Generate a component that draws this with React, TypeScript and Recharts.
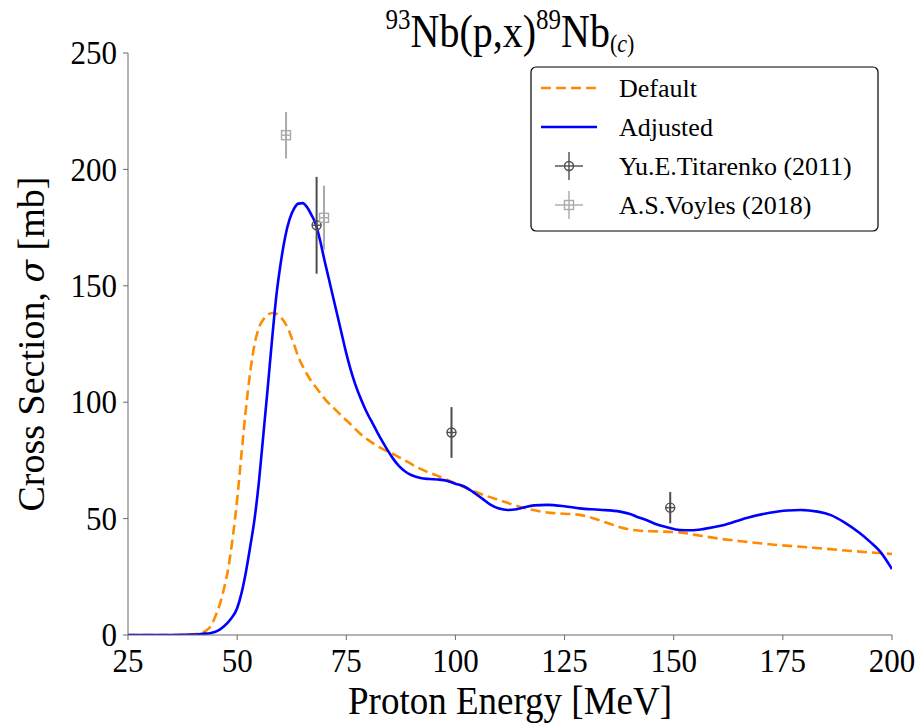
import React from 'react';
import {
  ComposedChart,
  Line,
  Scatter,
  ErrorBar,
  XAxis,
  YAxis,
  Legend,
} from 'recharts';

// Default model: energy grid [MeV] and cross section [mb]
const defaultEnergy = [
  25, 35, 40, 42, 43, 44, 45, 46, 47, 48, 49, 50, 51, 52, 53, 54, 55, 56, 57, 58,
  59, 60, 61, 62, 63, 64, 65, 66, 67, 68, 69, 70.5, 72, 74, 76, 78, 80, 82, 84, 86,
  88, 90.3, 93, 96.4, 99.5, 101.8, 104.5, 107, 110, 113.3, 117, 121, 125, 128.5,
  132.3, 135, 137.7, 140, 142.3, 146, 151.4, 155, 160, 166.7, 173, 182, 190, 200,
];
const defaultXs = [
  0, 0, 0.3, 1, 2, 4, 8, 13, 20, 29, 42, 58, 78, 97, 113, 125, 132, 135.5, 137.5, 138.3,
  138, 136.5, 134, 130, 125, 119.5, 115.5, 112, 109, 106.5, 104, 100.5, 97.8, 94, 90.5, 86.8, 83.8, 81.3, 79.3, 77.5,
  75.5, 73, 70.5, 68, 65.5, 63.7, 61.5, 59.8, 58, 55.9, 54, 52.6, 52.1, 51.6,
  49.7, 48, 46.3, 45.3, 44.8, 44.5, 44.1, 43, 41.5, 40, 38.8, 37.5, 36.2, 34.8,
];

// Adjusted model
const adjustedEnergy = [
  25, 35, 40, 42, 44, 45.5, 47, 48.5, 50, 51, 52, 53, 54, 55, 56, 57, 58, 59, 60, 61,
  62, 63, 64, 65, 66, 67, 68, 69, 70, 71, 72, 73, 74, 75, 76, 77, 78, 79, 80, 81,
  82, 83, 84, 85, 86, 87, 88, 89, 90, 92, 94, 96, 98, 100, 102, 104, 106, 108, 110, 112, 114,
  116, 118, 121, 125, 128.5, 133, 137.7, 140, 142, 144, 146, 148.4, 151.4, 154, 157, 161,
  166.7, 172, 176, 179, 183, 186, 189, 192.6, 195, 197.3, 200,
];
const adjustedXs = [
  0, 0, 0.2, 0.5, 0.9, 1.8, 3.8, 6.8, 11.5, 18, 27, 38, 50, 66, 86, 106, 127, 146, 160, 171,
  178.5, 183, 185.3, 185.5, 183.8, 180.5, 176.5, 169.5, 161, 153, 145, 137, 129, 121, 114, 108, 103, 98.5, 94.5, 91,
  87.5, 84, 80.8, 77.8, 75, 72.8, 71, 69.6, 68.6, 67.4, 67, 66.8, 66.3, 65, 63.8, 61.5, 58.8, 56, 54.3, 53.7, 54,
  55, 55.7, 55.9, 55.3, 54.4, 53.8, 53, 52, 50.5, 49.2, 47.6, 46.3, 45.1, 45, 45.6, 47,
  50.3, 52.5, 53.5, 53.7, 53, 51.5, 48.5, 43.8, 40, 35.8, 28.3,
];

// Measurements
const titarenkoEnergy = [68.2, 99.1, 149.2];
const titarenkoXs = [176, 87, 54.7];
const titarenkoErr = [20.8, 10.9, 6.7];

const voylesEnergy = [61.2, 69.9];
const voylesXs = [214.7, 179.2];
const voylesErr = [10, 13.8];

const xTicks = [25, 50, 75, 100, 125, 150, 175, 200];
const yTicks = [0, 50, 100, 150, 200, 250];

const legendLabels = ['Default', 'Adjusted', 'Yu.E.Titarenko (2011)', 'A.S.Voyles (2018)'];

const toLine = (xs: number[], ys: number[]) => xs.map((x, i) => ({ x, y: ys[i] }));
const toPoints = (xs: number[], ys: number[], es: number[]) =>
  xs.map((x, i) => ({ x, y: ys[i], err: es[i] }));

const defaultData = toLine(defaultEnergy, defaultXs);
const adjustedData = toLine(adjustedEnergy, adjustedXs);
const titarenkoData = toPoints(titarenkoEnergy, titarenkoXs, titarenkoErr);
const voylesData = toPoints(voylesEnergy, voylesXs, voylesErr);

const FONT = '"Liberation Serif", "Times New Roman", serif';
const SY = 1.1; // glyphs are drawn slightly tall
const SPINE = '#6a6a6a';
const ORANGE = '#ff8c00';
const BLUE = '#0000ff';
const DARK = '#4d4d4d';
const LIGHT = '#aaaaaa';

function XTick(props: any) {
  const { x, y, payload } = props;
  return (
    <text
      transform={`translate(${x},${y + 25}) scale(1,${SY})`}
      textAnchor="middle"
      fontSize={31}
      fontFamily={FONT}
      fill="#000"
    >
      {payload.value}
    </text>
  );
}

function YTick(props: any) {
  const { x, y, payload } = props;
  return (
    <text
      transform={`translate(${x},${y + 11.2}) scale(1,${SY})`}
      textAnchor="end"
      fontSize={31}
      fontFamily={FONT}
      fill="#000"
    >
      {payload.value}
    </text>
  );
}

function CircleMarker(props: any) {
  const { cx, cy } = props;
  const r = 4.5;
  return (
    <g stroke={DARK} strokeWidth={1.4} fill="none">
      <circle cx={cx} cy={cy} r={r} />
      <line x1={cx - r} x2={cx + r} y1={cy} y2={cy} />
      <line x1={cx} x2={cx} y1={cy - r} y2={cy + r} />
    </g>
  );
}

function SquareMarker(props: any) {
  const { cx, cy } = props;
  const h = 4.5;
  return (
    <g stroke={LIGHT} strokeWidth={1.4} fill="none">
      <rect x={cx - h} y={cy - h} width={2 * h} height={2 * h} />
      <line x1={cx - h} x2={cx + h} y1={cy} y2={cy} />
      <line x1={cx} x2={cx} y1={cy - h} y2={cy + h} />
    </g>
  );
}

// Bottom axis label plus the reaction title centred over the plot
function AxisTitles(props: any) {
  const { viewBox } = props;
  const cx = viewBox.x + viewBox.width / 2;
  const fs = 40;
  const sup = 25;
  const sub = 22;
  return (
    <g>
      <text
        transform={`translate(${cx},${714}) scale(1,1.08)`}
        textAnchor="middle"
        fontSize={37}
        fontFamily={FONT}
        fill="#000"
      >
        Proton Energy [MeV]
      </text>
      <text
        transform={`translate(${cx},${47}) scale(1,1.15)`}
        textAnchor="middle"
        fontSize={fs}
        fontFamily={FONT}
        fill="#000"
      >
        <tspan fontSize={sup} dy={-16}>93</tspan>
        <tspan dy={16}>Nb(p,x)</tspan>
        <tspan fontSize={sup} dy={-16}>89</tspan>
        <tspan dy={16}>Nb</tspan>
        <tspan fontSize={sub} dy={4}>(</tspan>
        <tspan fontSize={sub} fontStyle="italic">c</tspan>
        <tspan fontSize={sub}>)</tspan>
      </text>
    </g>
  );
}

function YLabel() {
  return (
    <text
      transform={`translate(${44},${344}) rotate(-90)`}
      textAnchor="middle"
      fontSize={38}
      fontFamily={FONT}
      fill="#000"
    >
      Cross Section, <tspan fontStyle="italic" fontFamily='"DejaVu Serif", serif' fontSize={33}>σ</tspan> [mb]
    </text>
  );
}

function LegendBox() {
  const w = 349;
  const h = 166;
  const rows = [22, 61, 100, 139];
  const tx = 89;
  return (
    <svg width={w} height={h} style={{ display: 'block' }}>
      <rect x={1} y={1} width={w - 2} height={h - 2} rx={5} ry={5} fill="#fff" fillOpacity={0.8} stroke="#000" strokeWidth={1.2} />
      <line x1={11} x2={67} y1={rows[0]} y2={rows[0]} stroke={ORANGE} strokeWidth={2.6} strokeDasharray="10 5" />
      <line x1={11} x2={67} y1={rows[1]} y2={rows[1]} stroke={BLUE} strokeWidth={2.6} />
      <g stroke={DARK} strokeWidth={1.4} fill="none">
        <line x1={25} x2={53} y1={rows[2]} y2={rows[2]} />
        <line x1={39} x2={39} y1={rows[2] - 14} y2={rows[2] + 14} />
        <circle cx={39} cy={rows[2]} r={4.5} />
      </g>
      <g stroke={LIGHT} strokeWidth={1.4} fill="none">
        <line x1={25} x2={53} y1={rows[3]} y2={rows[3]} />
        <line x1={39} x2={39} y1={rows[3] - 14} y2={rows[3] + 14} />
        <rect x={34.5} y={rows[3] - 4.5} width={9} height={9} />
      </g>
      {legendLabels.map((label, i) => (
        <text
          key={label}
          x={tx}
          y={rows[i]}
          dy="0.35em"
          fontSize={26}
          fontFamily={FONT}
          fill="#000"
        >
          {label}
        </text>
      ))}
    </svg>
  );
}

export default function App() {
  return (
    <div style={{ position: 'absolute', left: 0, top: 0, width: 921, height: 728, background: '#fff' }}>
      <ComposedChart
        width={921}
        height={728}
        margin={{ top: 53, right: 29, bottom: 0, left: 48 }}
      >
        <XAxis
          xAxisId="bottom"
          type="number"
          dataKey="x"
          domain={[25, 200]}
          ticks={xTicks}
          allowDataOverflow
          height={93}
          stroke={SPINE}
          tickLine={{ stroke: SPINE }}
          tickSize={5}
          tickMargin={7}
          tick={<XTick />}
          label={{ content: <AxisTitles /> }}
        />
        <XAxis
          xAxisId="top"
          orientation="top"
          type="number"
          dataKey="x"
          domain={[25, 200]}
          allowDataOverflow
          height={0}
          stroke={SPINE}
          tick={false}
          tickLine={false}
        />
        <YAxis
          yAxisId="left"
          type="number"
          domain={[0, 250]}
          ticks={yTicks}
          allowDataOverflow
          width={80}
          stroke={SPINE}
          tickLine={{ stroke: SPINE }}
          tickSize={5}
          tickMargin={6}
          tick={<YTick />}
          label={{ content: <YLabel /> }}
        />
        <YAxis
          yAxisId="right"
          orientation="right"
          type="number"
          domain={[0, 250]}
          allowDataOverflow
          width={0}
          stroke={SPINE}
          tick={false}
          tickLine={false}
        />
        <Legend
          layout="vertical"
          align="center"
          verticalAlign="middle"
          wrapperStyle={{ left: 530, top: 66, width: 349, height: 166 }}
          content={() => <LegendBox />}
        />
        <Line
          xAxisId="bottom"
          yAxisId="left"
          data={defaultData}
          dataKey="y"
          type="monotone"
          stroke={ORANGE}
          strokeWidth={2.6}
          strokeDasharray="10 5"
          dot={false}
          activeDot={false}
          isAnimationActive={false}
        />
        <Line
          xAxisId="bottom"
          yAxisId="left"
          data={adjustedData}
          dataKey="y"
          type="monotone"
          stroke={BLUE}
          strokeWidth={2.6}
          dot={false}
          activeDot={false}
          isAnimationActive={false}
        />
        <Scatter
          xAxisId="bottom"
          yAxisId="left"
          data={titarenkoData}
          dataKey="y"
          shape={<CircleMarker />}
          isAnimationActive={false}
        >
          <ErrorBar dataKey="err" direction="y" width={0} stroke={DARK} strokeWidth={2} isAnimationActive={false} />
        </Scatter>
        <Scatter
          xAxisId="bottom"
          yAxisId="left"
          data={voylesData}
          dataKey="y"
          shape={<SquareMarker />}
          isAnimationActive={false}
        >
          <ErrorBar dataKey="err" direction="y" width={0} stroke={LIGHT} strokeWidth={2} isAnimationActive={false} />
        </Scatter>
      </ComposedChart>
    </div>
  );
}
